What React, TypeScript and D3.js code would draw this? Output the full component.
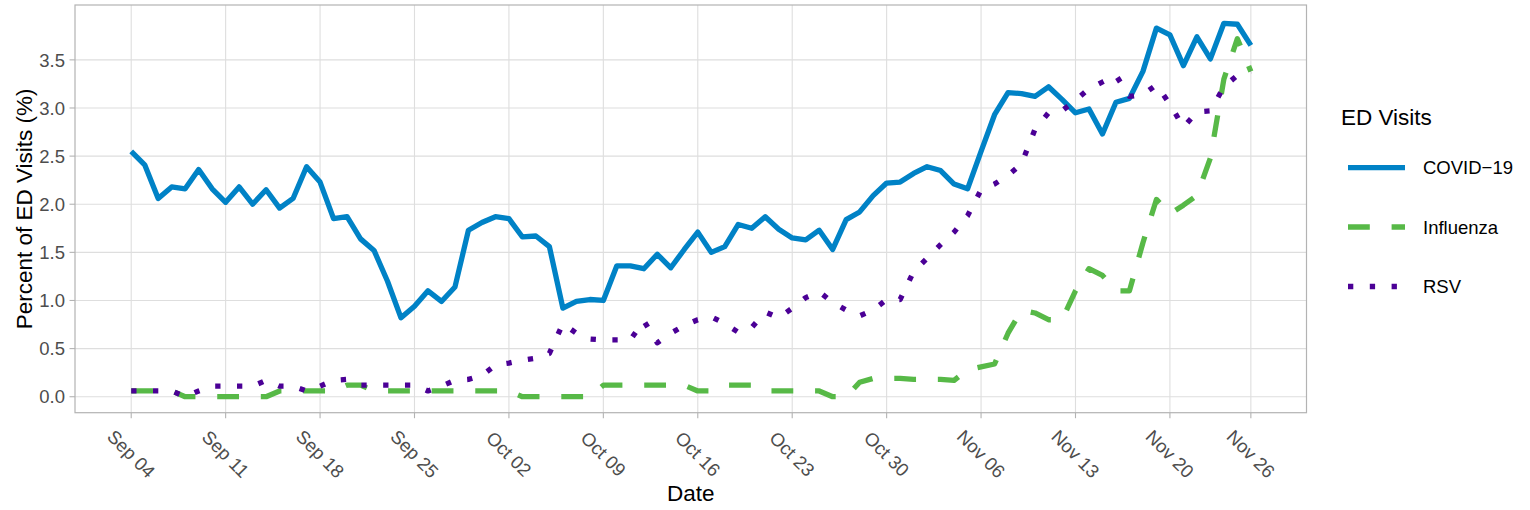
import React from "react";
import * as d3 from "d3";

// ---- Data ----
const startDate = new Date(2023, 8, 4);
const endDate = new Date(2023, 10, 26);
const dates: Date[] = d3.timeDay.range(startDate, d3.timeDay.offset(endDate, 1));

const covid = [
  2.55, 2.41, 2.06, 2.18, 2.16, 2.36, 2.16, 2.02, 2.18, 2.0, 2.15, 1.96, 2.06, 2.39,
  2.23, 1.85, 1.87, 1.64, 1.52, 1.2, 0.82, 0.94, 1.1, 0.99, 1.14, 1.73, 1.81, 1.87,
  1.85, 1.66, 1.67, 1.56, 0.92, 0.99, 1.01, 1.0, 1.36, 1.36, 1.33, 1.48, 1.34, 1.53,
  1.71, 1.5, 1.56, 1.79, 1.75, 1.87, 1.74, 1.65, 1.63, 1.73, 1.53, 1.84, 1.92, 2.09,
  2.22, 2.23, 2.32, 2.39, 2.35, 2.21, 2.16, 2.55, 2.93, 3.16, 3.15, 3.12, 3.22, 3.09,
  2.95, 2.99, 2.73, 3.06, 3.1, 3.38, 3.83, 3.76, 3.44, 3.74, 3.51, 3.88, 3.87, 3.65,
];

const influenza = [
  0.06, 0.06, 0.06, 0.06, 0.0, 0.0, 0.0, 0.0, 0.0, 0.0, 0.0, 0.06, 0.06, 0.06,
  0.06, 0.06, 0.12, 0.12, 0.06, 0.06, 0.06, 0.06, 0.06, 0.06, 0.06, 0.06, 0.06, 0.06,
  0.06, 0.0, 0.0, 0.0, 0.0, 0.0, 0.0, 0.12, 0.12, 0.12, 0.12, 0.12, 0.12, 0.12,
  0.06, 0.06, 0.12, 0.12, 0.12, 0.06, 0.06, 0.06, 0.06, 0.06, 0.0, 0.0, 0.15, 0.19,
  0.19, 0.19, 0.18, 0.18, 0.18, 0.17, 0.28, 0.31, 0.34, 0.66, 0.9, 0.87, 0.8, 0.8,
  1.1, 1.33, 1.26, 1.1, 1.1, 1.6, 2.05, 1.9, 1.99, 2.09, 2.48, 3.3, 3.72, 3.38,
];

const rsv = [
  0.06, 0.06, 0.06, 0.06, 0.0, 0.06, 0.11, 0.11, 0.11, 0.11, 0.17, 0.11, 0.11, 0.06,
  0.11, 0.17, 0.18, 0.12, 0.12, 0.12, 0.12, 0.12, 0.06, 0.11, 0.17, 0.18, 0.22, 0.33,
  0.35, 0.38, 0.4, 0.45, 0.76, 0.66, 0.6, 0.59, 0.59, 0.59, 0.79, 0.56, 0.66, 0.74,
  0.8, 0.83, 0.76, 0.67, 0.72, 0.88, 0.82, 0.92, 1.03, 1.09, 0.98, 0.9, 0.84, 0.9,
  1.01, 1.01, 1.3, 1.44, 1.58, 1.71, 1.88, 2.15, 2.21, 2.3, 2.42, 2.78, 2.95, 2.97,
  3.08, 3.2, 3.27, 3.34, 3.12, 3.14, 3.24, 3.04, 2.8, 2.96, 2.97, 3.22, 3.34, 3.38,
];

const seriesNames = ["COVID\u221219", "Influenza", "RSV"];
const seriesValues = [covid, influenza, rsv];

const xTickLabels = [
  "Sep 04", "Sep 11", "Sep 18", "Sep 25", "Oct 02", "Oct 09", "Oct 16",
  "Oct 23", "Oct 30", "Nov 06", "Nov 13", "Nov 20", "Nov 26",
];
const yTicks = [0, 0.5, 1, 1.5, 2, 2.5, 3, 3.5];

// ---- Styles ----
const colors = ["#0082C6", "#57B947", "#4B0096"];
const dashes = ["none", "21.8 21.8", "5.3 16.5"];
const FONT = "'Liberation Sans', Arial, Helvetica, sans-serif";

const W = 1530;
const H = 510;
const panel = { left: 75, right: 1306.5, top: 5, bottom: 412.7 };

export default function App() {
  const pad = 4.15;
  const x = d3
    .scaleTime()
    .domain([d3.timeHour.offset(startDate, -pad * 24), d3.timeHour.offset(endDate, pad * 24)])
    .range([panel.left, panel.right]);
  const y = d3.scaleLinear().domain([-0.166, 4.07]).range([panel.bottom, panel.top]);

  const parse = d3.timeParse("%b %d %Y");
  const tickDates = xTickLabels.map((t) => parse(t + " 2023") as Date);
  const fmtY = d3.format(".1f");

  const line = d3
    .line<number>()
    .x((_, i) => x(dates[i]))
    .y((v) => y(v));

  const legendX = 1348;
  const legendY = [167.7, 227, 286.5];

  return (
    <svg
      width={W}
      height={H}
      style={{ position: "absolute", left: 0, top: 0, background: "#fff" }}
      fontFamily={FONT}
    >
      <rect x={0} y={0} width={W} height={H} fill="#fff" />
      {/* grid */}
      {yTicks.map((t) => (
        <line key={"gy" + t} x1={panel.left} x2={panel.right} y1={y(t)} y2={y(t)} stroke="#dedede" strokeWidth={1.1} />
      ))}
      {tickDates.map((d, i) => (
        <line key={"gx" + i} x1={x(d)} x2={x(d)} y1={panel.top} y2={panel.bottom} stroke="#dedede" strokeWidth={1.1} />
      ))}
      {/* series */}
      {seriesValues.map((vals, s) => (
        <path
          key={"s" + s}
          d={line(vals) || ""}
          fill="none"
          stroke={colors[s]}
          strokeWidth={5.3}
          strokeDasharray={dashes[s]}
          strokeLinecap="butt"
          strokeLinejoin="round"
        />
      ))}
      {/* panel border */}
      <rect
        x={panel.left}
        y={panel.top}
        width={panel.right - panel.left}
        height={panel.bottom - panel.top}
        fill="none"
        stroke="#b3b3b3"
        strokeWidth={1.2}
      />
      {/* y axis */}
      {yTicks.map((t) => (
        <g key={"yt" + t}>
          <line x1={panel.left - 5.5} x2={panel.left} y1={y(t)} y2={y(t)} stroke="#b3b3b3" strokeWidth={1.1} />
          <text x={panel.left - 10} y={y(t)} dy="0.36em" textAnchor="end" fontSize={18.5} fill="#4d4d4d">
            {fmtY(t)}
          </text>
        </g>
      ))}
      {/* x axis */}
      {tickDates.map((d, i) => (
        <g key={"xt" + i}>
          <line x1={x(d)} x2={x(d)} y1={panel.bottom} y2={panel.bottom + 5.5} stroke="#b3b3b3" strokeWidth={1.1} />
          <text
            transform={`translate(${x(d)},${454}) rotate(45)`}
            textAnchor="middle"
            dy="0.35em"
            fontSize={18.5}
            fill="#4d4d4d"
          >
            {xTickLabels[i]}
          </text>
        </g>
      ))}
      {/* axis titles */}
      <text x={(panel.left + panel.right) / 2} y={501} textAnchor="middle" fontSize={22.5} fill="#000">
        Date
      </text>
      <text transform={`translate(32,${(panel.top + panel.bottom) / 2}) rotate(-90)`} textAnchor="middle" fontSize={22.5} fill="#000">
        Percent of ED Visits (%)
      </text>
      {/* legend */}
      <text x={1341} y={124.5} fontSize={22.5} fill="#000">
        ED Visits
      </text>
      {seriesNames.map((n, s) => (
        <g key={"lg" + s}>
          <line
            x1={legendX}
            x2={legendX + 57}
            y1={legendY[s]}
            y2={legendY[s]}
            stroke={colors[s]}
            strokeWidth={5.3}
            strokeDasharray={dashes[s]}
            strokeLinecap="butt"
          />
          <text x={1423} y={legendY[s]} dy="0.36em" fontSize={18.5} fill="#000">
            {n}
          </text>
        </g>
      ))}
    </svg>
  );
}
